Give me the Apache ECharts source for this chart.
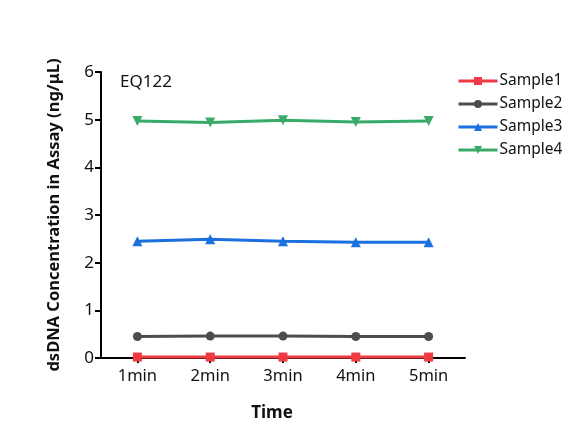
<!DOCTYPE html>
<html><head><meta charset="utf-8">
<script src="https://cdn.jsdelivr.net/npm/echarts@6/dist/echarts.min.js"></script>
<style>html,body{margin:0;padding:0;background:#fff}#c{width:566px;height:433px}</style>
</head><body><div id="c"></div>
<script>
const categories = ['1min','2min','3min','4min','5min'];
const seriesNames = ['Sample1','Sample2','Sample3','Sample4'];
const sample1 = [0.02, 0.02, 0.02, 0.02, 0.02];
const sample2 = [0.45, 0.46, 0.46, 0.45, 0.45];
const sample3 = [2.45, 2.49, 2.45, 2.43, 2.43];
const sample4 = [4.97, 4.94, 4.99, 4.95, 4.97];
const yTicks = [0,1,2,3,4,5,6];

const colors = ['#EE3A40','#4D4D4D','#1C6FDE','#39AB69'];
const symbols = ['rect','circle','triangle','path://M0,0 L10,0 L5,9 Z'];
const data = [sample1, sample2, sample3, sample4];
const font = 'Noto Sans';

const chart = echarts.init(document.getElementById('c'));
chart.setOption({
  animation:false,
  textStyle:{fontFamily:font},
  grid:{left:101,right:101,top:72,bottom:75,containLabel:false},
  title:{text:'EQ122',left:115,top:69,textStyle:{fontFamily:font,fontSize:17,fontWeight:'normal',color:'#111'}},
  legend:{
    orient:'vertical', left:452, top:68, itemGap:7, itemWidth:39, itemHeight:10,
    data:seriesNames.map(n=>({name:n})),
    lineStyle:{width:3},
    textStyle:{fontFamily:font,fontSize:15.5,color:'#111',padding:[0,0,0,-3]}
  },
  xAxis:{
    type:'category', data:categories, boundaryGap:true,
    name:'Time', nameLocation:'middle', nameGap:47,
    nameTextStyle:{fontFamily:font,fontSize:17,fontWeight:'bold',color:'#111',padding:[0,22,0,0]},
    axisLine:{lineStyle:{color:'#000',width:2}},
    axisTick:{show:true,alignWithLabel:true,length:5,lineStyle:{color:'#000',width:2}},
    axisLabel:{fontFamily:font,fontSize:16.5,color:'#111',margin:10}
  },
  yAxis:{
    type:'value', min:0, max:6, interval:1,
    name:'dsDNA Concentration in Assay (ng/μL)', nameLocation:'middle', nameGap:38,
    nameTextStyle:{fontFamily:font,fontSize:16.5,fontWeight:'bold',color:'#111'},
    axisLine:{show:true,lineStyle:{color:'#000',width:2}},
    axisTick:{show:true,length:6,lineStyle:{color:'#000',width:2}},
    axisLabel:{fontFamily:font,fontSize:17,color:'#111',margin:7,
      formatter:v=>yTicks.includes(v)?String(v):''},
    splitLine:{show:false}
  },
  series: seriesNames.map((n,i)=>({
    name:n, type:'line', data:data[i],
    symbol:symbols[i], symbolSize: i===1?9:(i===0?9:10),
    lineStyle:{color:colors[i],width:3},
    itemStyle:{color:colors[i]},
    z: 10-i
  }))
});
</script></body></html>
